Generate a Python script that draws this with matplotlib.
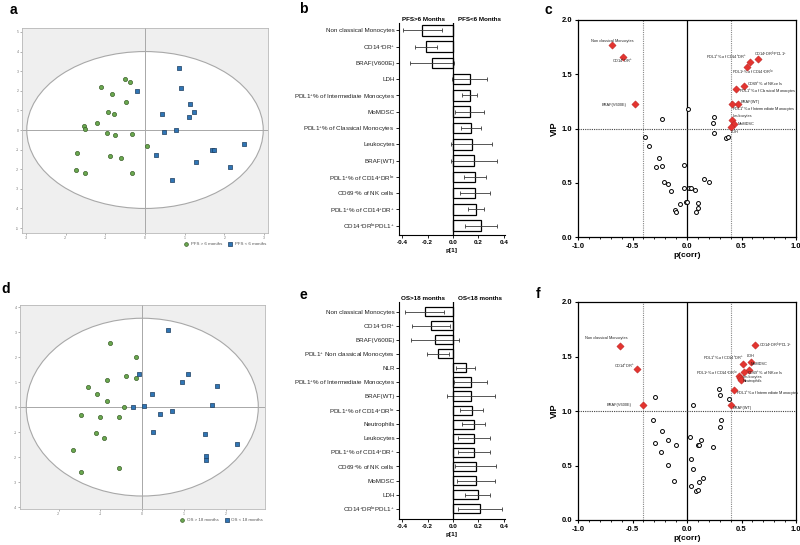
import matplotlib
matplotlib.use('Agg')
import matplotlib.pyplot as plt
from matplotlib.patches import Ellipse
from matplotlib.ticker import MultipleLocator

plt.rcParams['font.family'] = ['Liberation Sans', 'DejaVu Sans']
plt.rcParams['mathtext.fontset'] = 'custom'
plt.rcParams['mathtext.rm'] = 'Liberation Sans'
plt.rcParams['mathtext.it'] = 'Liberation Sans:italic'
plt.rcParams['mathtext.bf'] = 'Liberation Sans:bold'

# ---------------- labels ----------------
NC = "Non classical Monocytes"
CDDR = r"CD14$^{+}$DR$^{+}$"
BRAFV = "BRAF(V600E)"
LDH = "LDH"
PINT = r"PDL1$^{+}$% of Intermediate Monocytes"
MOM = "MoMDSC"
PCLS = r"PDL1$^{+}$% of Classical Monocytes"
LEU = "Leukocytes"
BRAFW = "BRAF(WT)"
PDRLO = r"PDL1$^{+}$% of CD14$^{+}$DR$^{\mathrm{lo}}$"
CD69 = r"CD69$^{+}$% of NK cells"
PDRP = r"PDL1$^{+}$% of CD14$^{+}$DR$^{+}$"
DRLOP = r"CD14$^{+}$DR$^{\mathrm{lo}}$PDL1$^{+}$"
PNC = r"PDL1$^{+}$ Non classical Monocytes"
NLR = "NLR"
NEU = "Neutrophils"

# ---------------- panel a (PFS scores) ----------------
a_green_x = [-0.50, -0.38, -1.10, -0.82, -0.47, -0.94, -0.79, -1.21, -1.53, -1.52,
             -0.95, -0.75, -0.32, 0.05, -1.71, -0.87, -0.61, -1.74, -1.50, -0.33]
a_green_y = [2.62, 2.45, 2.18, 1.84, 1.41, 0.92, 0.82, 0.34, 0.20, 0.03,
             -0.17, -0.27, -0.22, -0.82, -1.17, -1.33, -1.43, -2.06, -2.18, -2.18]
a_blue_x = [0.85, 0.90, -0.19, 1.13, 1.24, 0.43, 1.11, 0.49, 0.79, 2.50,
            0.28, 1.68, 1.75, 1.28, 2.13, 0.67]
a_blue_y = [3.16, 2.16, 1.99, 1.33, 0.92, 0.83, 0.68, -0.09, -0.02, -0.71,
            -1.29, -1.02, -1.04, -1.65, -1.90, -2.55]
a_legend = ["PFS > 6 months", "PFS < 6 months"]

# ---------------- panel d (OS scores) ----------------
d_green_x = [-0.77, -0.16, -0.38, -0.15, -0.84, -1.29, -1.08, -0.84, -0.43, -1.47,
             -1.00, -0.55, -1.10, -0.91, -1.65, -1.47, -0.56]
d_green_y = [2.55, 1.99, 1.24, 1.16, 1.07, 0.79, 0.52, 0.23, 0.01, -0.33,
             -0.41, -0.41, -1.03, -1.25, -1.71, -2.61, -2.44]
d_blue_x = [0.61, -0.09, 1.10, 0.94, 1.78, 0.23, -0.22, 0.05, 1.66, 0.42,
            0.70, 0.25, 1.50, 2.27, 1.51, 1.51]
d_blue_y = [3.08, 1.31, 1.33, 1.00, 0.84, 0.52, 0.01, 0.04, 0.07, -0.27,
            -0.17, -1.01, -1.07, -1.47, -1.97, -2.13]
d_legend = ["OS > 18 months", "OS < 18 months"]

# ---------------- panel b (loadings PFS) ----------------
b_cats = [NC, CDDR, BRAFV, LDH, PINT, MOM, PCLS, LEU, BRAFW, PDRLO, CD69, PDRP, DRLOP]
b_vals = [-0.24, -0.213, -0.165, 0.131, 0.131, 0.131, 0.139, 0.147, 0.165, 0.173, 0.173, 0.181, 0.220]
b_errs = [0.152, 0.087, 0.17, 0.14, 0.058, 0.117, 0.079, 0.162, 0.179, 0.086, 0.118, 0.063, 0.128]
b_heads = ["PFS>6 Months", "PFS<6 Months"]

# ---------------- panel e (loadings OS) ----------------
e_cats = [NC, CDDR, BRAFV, PNC, NLR, PINT, BRAFW, PDRLO, NEU, LEU, PDRP, CD69, MOM, LDH, DRLOP]
e_vals = [-0.223, -0.173, -0.144, -0.118, 0.10, 0.142, 0.144, 0.147, 0.163, 0.168, 0.168, 0.178, 0.178, 0.194, 0.213]
e_errs = [0.155, 0.147, 0.189, 0.09, 0.074, 0.13, 0.188, 0.092, 0.09, 0.127, 0.127, 0.165, 0.15, 0.098, 0.17]
e_heads = ["OS>18 months", "OS<18 months"]

# ---------------- panel c (S-plot PFS) ----------------
c_red_names = [NC, CDDR, BRAFV, DRLOP, PDRP, PDRLO, CD69, PCLS, BRAFW, PINT, LEU, MOM, LDH]
c_red_x = [-0.688, -0.590, -0.477, 0.648, 0.575, 0.547, 0.520, 0.450, 0.471, 0.416, 0.416, 0.434, 0.401]
c_red_y = [1.773, 1.662, 1.226, 1.637, 1.616, 1.564, 1.395, 1.361, 1.226, 1.226, 1.078, 1.038, 1.017]
c_lab_x = [-0.685, -0.59, -0.553, 0.615, 0.547, 0.416, 0.547, 0.477, 0.495, 0.416, 0.416, 0.465, 0.404]
c_lab_y = [1.81, 1.616, 1.22, 1.684, 1.659, 1.518, 1.407, 1.34, 1.244, 1.177, 1.112, 1.038, 0.968]
c_lab_ha = ['center', 'center', 'right', 'left', 'right', 'left', 'left', 'left', 'left', 'left', 'left', 'left', 'left']
c_open_x = [0.006, -0.229, 0.248, 0.239, 0.251, 0.358, 0.373, -0.382, -0.349, -0.257,
            -0.281, -0.229, -0.024, 0.159, 0.202, -0.211, -0.171, -0.150, -0.031, 0.021,
            0.034, 0.073, -0.012, 0.0, -0.061, 0.098, 0.098, 0.086, -0.110, -0.101]
c_open_y = [1.177, 1.088, 1.106, 1.048, 0.955, 0.912, 0.919, 0.919, 0.836, 0.728,
            0.648, 0.654, 0.664, 0.535, 0.510, 0.510, 0.488, 0.421, 0.449, 0.449,
            0.449, 0.433, 0.326, 0.326, 0.301, 0.316, 0.267, 0.233, 0.249, 0.233]

# ---------------- panel f (S-plot OS) ----------------
f_red_names = [NC, CDDR, BRAFV, DRLOP, LDH, PDRP, MOM, CD69, PDRLO, LEU, NEU, PINT, BRAFW]
f_red_x = [-0.619, -0.457, -0.405, 0.625, 0.585, 0.518, 0.567, 0.521, 0.473, 0.485, 0.494, 0.433, 0.402]
f_red_y = [1.599, 1.382, 1.054, 1.605, 1.446, 1.431, 1.373, 1.357, 1.323, 1.305, 1.287, 1.189, 1.054]
f_lab_x = [-0.741, -0.476, -0.506, 0.662, 0.546, 0.524, 0.585, 0.546, 0.463, 0.506, 0.506, 0.454, 0.415]
f_lab_y = [1.667, 1.409, 1.051, 1.605, 1.501, 1.486, 1.431, 1.348, 1.342, 1.308, 1.271, 1.155, 1.023]
f_lab_ha = ['center', 'right', 'right', 'left', 'left', 'right', 'left', 'left', 'right', 'left', 'left', 'left', 'left']
f_open_x = [-0.296, 0.052, 0.290, 0.305, 0.381, 0.308, 0.299, -0.311, -0.226, -0.290,
            -0.171, -0.104, -0.241, -0.177, -0.116, 0.027, 0.131, 0.098, 0.107, 0.235,
            0.040, 0.055, 0.149, 0.107, 0.040, 0.085, 0.104]
f_open_y = [1.131, 1.057, 1.198, 1.143, 1.112, 0.922, 0.855, 0.922, 0.812, 0.708,
            0.738, 0.689, 0.625, 0.502, 0.362, 0.757, 0.738, 0.689, 0.692, 0.674,
            0.561, 0.466, 0.389, 0.349, 0.312, 0.263, 0.276]

W, H = 800, 545
fig = plt.figure(figsize=(W / 100, H / 100), dpi=100)
fig.patch.set_facecolor('white')


def px_axes(l, t, r, b):
    return fig.add_axes([l / W, (H - b) / H, (r - l) / W, (b - t) / H])


GREEN = '#6aa84f'
GREEN_E = '#3b5f2a'
BLUE = '#2f75b5'
BLUE_E = '#1c3d5e'


def score_plot(ax, gx, gy, bx, by, xlim, ylim, xt, yt, ell_w, ell_h, leg):
    ax.set_facecolor('#efefef')
    ax.add_patch(Ellipse((0, 0), ell_w, ell_h, facecolor='white', edgecolor='#a8a8a8', lw=0.8, zorder=1))
    ax.axhline(0, color='#a8a8a8', lw=0.7, zorder=2)
    ax.axvline(0, color='#a8a8a8', lw=0.7, zorder=2)
    g = ax.scatter(gx, gy, s=9, marker='o', c=GREEN, edgecolors=GREEN_E, linewidths=0.5, zorder=3, label=leg[0])
    b = ax.scatter(bx, by, s=9, marker='s', c=BLUE, edgecolors=BLUE_E, linewidths=0.5, zorder=3, label=leg[1])
    ax.set_xlim(*xlim)
    ax.set_ylim(*ylim)
    ax.set_xticks(xt)
    ax.set_yticks(yt)
    ax.set_xticklabels([str(v) for v in xt])
    ax.set_yticklabels([str(v) for v in yt])
    ax.tick_params(labelsize=2.5, length=1.2, width=0.4, colors='#777777', pad=1.2)
    for s in ax.spines.values():
        s.set_color('#b8b8b8')
        s.set_linewidth(0.6)
    ax.legend(handles=[g, b], loc='upper right', bbox_to_anchor=(1.0, -0.035), ncol=2,
              frameon=False, fontsize=3.2, handletextpad=0.1, columnspacing=0.8,
              borderaxespad=0, markerscale=0.9, labelcolor='#555555')


ax_a = px_axes(22, 28, 268, 233)
score_plot(ax_a, a_green_x, a_green_y, a_blue_x, a_blue_y, (-3.1, 3.1), (-5.25, 5.2),
           [-3, -2, -1, 0, 1, 2, 3], [-5, -4, -3, -2, -1, 0, 1, 2, 3, 4, 5], 5.96, 8.0, a_legend)

ax_d = px_axes(20, 305, 265, 509)
score_plot(ax_d, d_green_x, d_green_y, d_blue_x, d_blue_y, (-2.92, 2.93), (-4.08, 4.09),
           [-2, -1, 0, 1, 2], [-4, -3, -2, -1, 0, 1, 2, 3, 4], 5.54, 7.12, d_legend)


def loading_plot(ax, cats, vals, errs, heads, ylim):
    n = len(cats)
    y = list(range(n))
    ax.barh(y, vals, height=0.65, color='white', edgecolor='black', lw=0.9, zorder=2)
    ax.errorbar(vals, y, xerr=errs, fmt='none', ecolor='#3a3a3a', elinewidth=0.6,
                capsize=1.1, capthick=0.6, zorder=3)
    ax.axvline(0, color='black', lw=0.9, zorder=4)
    ax.set_xlim(-0.425, 0.41)
    ax.set_ylim(*ylim)
    ax.set_yticks(y)
    ax.set_yticklabels(cats, fontsize=4.5, color='#222222')
    ax.set_xticks([-0.4, -0.2, 0.0, 0.2, 0.4])
    ax.set_xticklabels(['-0.4', '-0.2', '0.0', '0.2', '0.4'], fontsize=4.6, fontweight='bold')
    ax.tick_params(axis='y', length=2, width=0.6, pad=1)
    ax.tick_params(axis='x', length=2, width=0.6, pad=1.5)
    ax.spines['top'].set_visible(False)
    ax.spines['right'].set_visible(False)
    ax.spines['left'].set_linewidth(0.8)
    ax.spines['bottom'].set_linewidth(0.8)
    ax.set_xlabel('p[1]', fontsize=4.6, fontweight='bold', labelpad=2)
    ax.text(-0.235, 1.005, heads[0], transform=ax.get_xaxis_transform(), ha='center', va='bottom',
            fontsize=4.5, fontweight='bold')
    ax.text(0.21, 1.005, heads[1], transform=ax.get_xaxis_transform(), ha='center', va='bottom',
            fontsize=4.5, fontweight='bold')


ax_b = px_axes(399, 23, 505, 235)
loading_plot(ax_b, b_cats, b_vals, b_errs, b_heads, (12.57, -0.45))

ax_e = px_axes(399, 302, 505, 519)
loading_plot(ax_e, e_cats, e_vals, e_errs, e_heads, (14.73, -0.68))


def s_plot(ax, rx, ry, names, lx, ly, lha, ox, oy):
    ax.axvline(0, color='black', lw=0.9, zorder=1)
    ax.axvline(-0.4, color='#888888', lw=0.8, ls=(0, (1, 1)), zorder=1)
    ax.axvline(0.4, color='#888888', lw=0.8, ls=(0, (1, 1)), zorder=1)
    ax.axhline(1.0, color='#444444', lw=0.8, ls=(0, (1, 1)), zorder=1)
    ax.scatter(ox, oy, s=8, marker='o', facecolors='white', edgecolors='black', linewidths=0.7, zorder=2)
    ax.scatter(rx, ry, s=14, marker='D', c='#e3342f', edgecolors='#b52020', linewidths=0.3, zorder=3)
    for name, x, y, ha in zip(names, lx, ly, lha):
        ax.text(x, y, name, fontsize=2.8, ha=ha, va='center', color='#222222', zorder=4, clip_on=False)
    ax.set_xlim(-1.0, 1.0)
    ax.set_ylim(0.0, 2.0)
    ax.set_xticks([-1.0, -0.5, 0.0, 0.5, 1.0])
    ax.set_xticklabels(['-1.0', '-0.5', '0.0', '0.5', '1.0'], fontsize=5.5, fontweight='bold')
    ax.set_yticks([0.0, 0.5, 1.0, 1.5, 2.0])
    ax.set_yticklabels(['0.0', '0.5', '1.0', '1.5', '2.0'], fontsize=5.5, fontweight='bold')
    ax.xaxis.set_minor_locator(MultipleLocator(0.1))
    ax.tick_params(axis='both', which='major', length=2.5, width=0.8, pad=1.5)
    ax.tick_params(axis='x', which='minor', length=1.5, width=0.6)
    for s in ax.spines.values():
        s.set_linewidth(0.9)
    ax.set_xlabel('p(corr)', fontsize=6, fontweight='bold', labelpad=1.5)
    ax.set_ylabel('VIP', fontsize=6.5, fontweight='bold', labelpad=2)


ax_c = px_axes(578, 20, 796, 237)
s_plot(ax_c, c_red_x, c_red_y, c_red_names, c_lab_x, c_lab_y, c_lab_ha, c_open_x, c_open_y)

ax_f = px_axes(578, 302, 796, 520)
s_plot(ax_f, f_red_x, f_red_y, f_red_names, f_lab_x, f_lab_y, f_lab_ha, f_open_x, f_open_y)

# panel letters
for letter, x, y in [('a', 13, 10), ('b', 303, 9), ('c', 548, 10),
                     ('d', 6, 289), ('e', 303, 295), ('f', 538, 294)]:
    fig.text(x / W, 1 - y / H, letter, fontsize=10, fontweight='bold', ha='center', va='center')

fig.savefig('out.png', dpi=100, facecolor='white')
